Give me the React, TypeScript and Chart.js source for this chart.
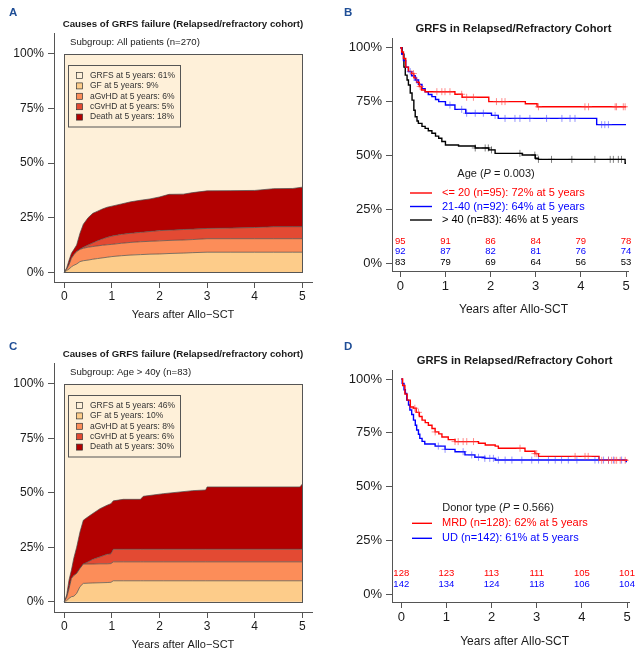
import React, { useEffect, useRef } from 'react';
import { Chart, registerables } from 'chart.js';
Chart.register(...registerables);

const FF = "'Liberation Sans', Arial, Helvetica, sans-serif";
const LETTER_COLOR = '#1f4e96';

// ---------- shared ----------
const yearTicks = [0, 1, 2, 3, 4, 5];
const pctTicks = [0, 25, 50, 75, 100];
const cifColors = ['#fef0d9', '#fdcc8a', '#fc8d59', '#e34a33', '#b30000'];

// ---------- Panel A : cumulative incidence, all patients ----------
const cifTimesA = [0, 0.05, 0.1, 0.15, 0.2, 0.26, 0.33, 0.4, 0.5, 0.6, 0.7, 0.8, 0.9, 1.0, 1.2, 1.4, 1.6, 1.8, 2.0, 2.2, 2.5, 2.7, 3.0, 3.5, 4.0, 4.4, 4.8, 5.0];
const gfA = [0, 0.8, 1.5, 2.5, 3.2, 3.8, 4.9, 5.3, 5.6, 6.0, 6.3, 6.6, 6.9, 7.2, 7.6, 7.9, 8.1, 8.3, 8.4, 8.6, 8.8, 9.0, 9.2, 9.2, 9.2, 9.2, 9.2, 9.2];
const agvhdA = [0, 0.7, 2.0, 3.9, 4.8, 5.7, 5.6, 5.7, 5.9, 5.8, 5.8, 5.8, 5.7, 5.6, 5.7, 5.8, 5.9, 5.9, 6.0, 6.0, 6.0, 6.0, 6.2, 6.2, 6.2, 6.2, 6.2, 6.2];
const cgvhdA = [0, 0, 0, 0, 0, 0, 0.1, 0.5, 1.0, 1.7, 2.4, 2.9, 3.4, 3.8, 4.1, 4.2, 4.3, 4.5, 4.7, 4.7, 4.8, 4.8, 4.7, 4.9, 5.1, 5.5, 5.5, 5.5];
const deathA = [0, 0.5, 2.0, 2.3, 2.4, 3.0, 7.3, 10.5, 12.5, 13.5, 13.5, 13.7, 13.8, 13.7, 13.9, 14.4, 14.7, 14.9, 15.4, 16.4, 16.2, 16.7, 17.2, 17.1, 17.0, 17.4, 17.5, 18.1];
const cifLegendA = ['GRFS at 5 years: 61%', 'GF at 5 years: 9%', 'aGvHD at 5 years: 6%', 'cGvHD at 5 years: 5%', 'Death at 5 years: 18%'];
const subgroupA = 'Subgroup: All patients (n=270)';

// ---------- Panel C : cumulative incidence, age > 40 ----------
const cifTimesC = [0, 0.05, 0.1, 0.15, 0.2, 0.26, 0.33, 0.4, 0.5, 0.6, 0.75, 0.9, 0.98, 1.03, 1.24, 1.6, 1.66, 2.08, 2.7, 2.97, 3.0, 4.95, 5.0];
const gfC = [0, 0.5, 1.5, 2.3, 2.5, 3.8, 6.9, 8.4, 8.5, 8.6, 8.7, 8.8, 8.9, 9.6, 9.6, 9.6, 9.6, 9.6, 9.6, 9.6, 9.6, 9.6, 9.6];
const agvhdC = [0, 1.5, 4.5, 8.4, 9.5, 9.2, 8.4, 8.9, 8.8, 8.7, 8.7, 8.6, 8.6, 8.7, 8.7, 8.7, 8.7, 8.7, 8.7, 8.7, 8.7, 8.7, 8.7];
const cgvhdC = [0, 0, 0, 0, 0, 0, 0, 0, 1.0, 2.2, 3.2, 4.4, 4.5, 5.8, 5.8, 5.8, 5.8, 5.8, 5.8, 5.8, 5.8, 5.8, 5.8];
const deathC = [0, 1, 4, 3.8, 8, 12, 16.7, 20.1, 20.7, 21, 22.1, 22.5, 23, 22.2, 22.9, 22.9, 24.3, 25.5, 26.9, 27.2, 28.6, 28.6, 29.9];
const cifLegendC = ['GRFS at 5 years: 46%', 'GF at 5 years: 10%', 'aGvHD at 5 years: 8%', 'cGvHD at 5 years: 6%', 'Death at 5 years: 30%'];
const subgroupC = 'Subgroup: Age > 40y (n=83)';

const cifTitle = 'Causes of GRFS failure (Relapsed/refractory cohort)';
const kmTitle = 'GRFS in Relapsed/Refractory Cohort';

// ---------- Panel B : KM by age ----------
const kmTimesB1 = [0, 0.03, 0.07, 0.12, 0.18, 0.25, 0.3, 0.36, 0.42, 0.47, 0.55, 1.21, 1.37, 1.96, 2.77, 3.03, 5.0];
const kmSurvB1 = [100, 98, 95, 91, 89, 88, 86, 84, 82, 80.4, 79.6, 78.4, 77, 75, 74, 72.6, 72.6];
const censorB1 = [0.29, 0.44, 0.81, 0.92, 0.99, 1.1, 1.36, 1.47, 1.62, 2.13, 2.25, 2.32, 3.06, 4.09, 4.17, 4.76, 4.79, 4.94, 4.98];
const kmTimesB2 = [0, 0.03, 0.07, 0.12, 0.18, 0.25, 0.33, 0.4, 0.48, 0.55, 0.62, 0.7, 0.78, 0.85, 1.0, 1.21, 1.45, 2.02, 2.17, 4.35, 5.0];
const kmSurvB2 = [100, 97, 94, 91, 88.9, 87, 85, 83, 81, 79.5, 78.3, 77.3, 76, 75, 73.4, 71.4, 69.6, 68.6, 67.2, 64.3, 64.3];
const censorB2 = [0.22, 0.36, 1.1, 1.36, 1.47, 1.66, 1.84, 2.1, 2.32, 2.54, 2.65, 2.87, 3.24, 3.58, 3.76, 3.87, 4.46, 4.53, 4.61];
const kmTimesB3 = [0, 0.04, 0.08, 0.11, 0.15, 0.18, 0.22, 0.26, 0.3, 0.33, 0.37, 0.4, 0.48, 0.55, 0.62, 0.7, 0.78, 0.85, 0.92, 1.0, 1.29, 1.66, 1.96, 2.1, 2.7, 2.99, 3.06, 4.98, 5.0];
const kmSurvB3 = [100, 97, 91, 87.3, 85, 82.7, 79, 75.7, 71, 68, 66, 64.9, 63.5, 62.6, 61.5, 60.3, 59, 58, 56.5, 54.9, 54.4, 53.5, 52.6, 51, 50.2, 48.7, 48.2, 46.4, 46.4];
const censorB3 = [1.66, 1.88, 1.95, 2.02, 2.65, 2.98, 3.06, 3.35, 3.8, 4.31, 4.65, 4.72, 4.83, 4.9];
const riskTimes = [0, 1, 2, 3, 4, 5];
const riskB1 = [95, 91, 86, 84, 79, 78];
const riskB2 = [92, 87, 82, 81, 76, 74];
const riskB3 = [83, 79, 69, 64, 56, 53];
const legendB = ['<= 20 (n=95): 72% at 5 years', '21-40 (n=92): 64% at 5 years', '> 40 (n=83): 46% at 5 years'];
const headerB = ['Age (', 'P', ' = 0.003)'];

// ---------- Panel D : KM by donor type ----------
const kmTimesD1 = [0, 0.03, 0.08, 0.13, 0.2, 0.27, 0.33, 0.4, 0.46, 0.53, 0.6, 0.68, 0.75, 0.83, 0.9, 1.04, 1.19, 1.71, 1.86, 2.08, 2.15, 2.74, 2.96, 3.04, 4.38, 5.0];
const kmSurvD1 = [100, 97, 93, 90.2, 87, 86.4, 84.5, 82.6, 80.9, 79.7, 78.5, 77, 75.4, 74.5, 73, 71.8, 70.9, 70.1, 69.3, 68.8, 67.8, 66.4, 65.3, 64, 62.2, 62];
const censorD1 = [0.3, 0.38, 0.75, 1.19, 1.26, 1.37, 1.45, 1.6, 2.63, 2.96, 3.0, 3.85, 4.07, 4.14, 4.44, 4.59, 4.66, 4.73, 4.77, 4.85, 4.96];
const kmTimesD2 = [0, 0.02, 0.06, 0.09, 0.12, 0.16, 0.19, 0.23, 0.27, 0.31, 0.34, 0.38, 0.41, 0.46, 0.52, 0.75, 0.97, 1.19, 1.41, 1.63, 1.85, 2.08, 4.98, 5.0];
const kmSurvD2 = [100, 98, 95, 93.3, 90.2, 87.9, 85.6, 83.5, 80.9, 78.5, 76.3, 74.3, 72.4, 71, 69.8, 68.8, 67.3, 66.2, 64.7, 63.6, 63.1, 62.3, 61.6, 61.6];
const censorD2 = [0.82, 0.97, 1.37, 1.56, 1.71, 1.85, 1.96, 2.04, 2.15, 2.3, 2.45, 2.67, 2.89, 3.04, 3.26, 3.41, 3.55, 3.7, 3.89, 4.29, 4.37, 4.48, 4.59, 4.7, 4.88];
const riskD1 = [128, 123, 113, 111, 105, 101];
const riskD2 = [142, 134, 124, 118, 106, 104];
const legendD = ['MRD (n=128): 62% at 5 years', 'UD (n=142): 61% at 5 years'];
const headerD = ['Donor type (', 'P', ' = 0.566)'];

// ---------- helpers ----------
function stepAt(times: number[], surv: number[], t: number) {
  let v = surv[0];
  for (let i = 0; i < times.length; i++) if (times[i] <= t) v = surv[i];
  return v;
}

function font(size: number, bold = false, italic = false) {
  return `${italic ? 'italic ' : ''}${bold ? 'bold ' : ''}${size}px ${FF}`;
}

function txt(ctx: CanvasRenderingContext2D, s: string, x: number, y: number, size: number, o: any = {}) {
  ctx.font = font(size, o.bold, o.italic);
  ctx.fillStyle = o.color || '#1a1a1a';
  ctx.textAlign = o.align || 'left';
  ctx.textBaseline = 'middle';
  ctx.fillText(s, x, y);
}

function mixedCentered(ctx: CanvasRenderingContext2D, parts: string[], cx: number, y: number, size: number) {
  const widths = parts.map((p, i) => { ctx.font = font(size, false, i === 1); return ctx.measureText(p).width; });
  let x = cx - widths.reduce((a, b) => a + b, 0) / 2;
  parts.forEach((p, i) => { txt(ctx, p, x, y, size, { italic: i === 1, color: '#1a1a1a' }); x += widths[i]; });
}

function xAxis(min: number, max: number, h: number, size: number, pad: number) {
  return {
    type: 'linear', min, max,
    afterBuildTicks: (s: any) => { s.ticks = yearTicks.map(v => ({ value: v })); },
    afterFit: (s: any) => { s.height = h; },
    ticks: { font: { family: FF, size }, color: '#1a1a1a', padding: pad, maxRotation: 0, autoSkip: false, callback: (v: any) => String(v) },
    grid: { display: true, drawOnChartArea: false, drawTicks: true, tickLength: 6, color: '#555', lineWidth: 1 },
    border: { display: true, color: '#555', width: 1 },
  };
}

function yAxis(min: number, max: number, w: number, size: number) {
  return {
    type: 'linear', min, max,
    afterBuildTicks: (s: any) => { s.ticks = pctTicks.map(v => ({ value: v })); },
    afterFit: (s: any) => { s.width = w; },
    ticks: { font: { family: FF, size }, color: '#1a1a1a', padding: 4, autoSkip: false, callback: (v: any) => v + '%' },
    grid: { display: true, drawOnChartArea: false, drawTicks: true, tickLength: 6, color: '#555', lineWidth: 1 },
    border: { display: true, color: '#555', width: 1 },
  };
}

const basePlugins = { legend: { display: false }, tooltip: { enabled: false }, title: { display: false } };

function cifConfig(times: number[], layers: number[][], legend: string[], subgroup: string, letter: string, xTitleY: number) {
  const cum: number[][] = [];
  let run = times.map(() => 0);
  layers.forEach(l => { run = run.map((v, i) => v + l[i]); cum.push(run); });
  const datasets = cum.map((c, k) => ({
    type: 'line',
    data: times.map((t, i) => ({ x: t, y: c[i] })),
    fill: k === 0 ? 'origin' : '-1',
    backgroundColor: cifColors[k + 1],
    borderColor: '#4a4a4a',
    borderWidth: 0.7,
    pointRadius: 0,
    tension: 0,
  }));
  const bg = {
    id: 'cifbg',
    beforeDatasetsDraw(chart: any) {
      const { ctx, scales: { x, y } } = chart;
      ctx.save();
      ctx.fillStyle = cifColors[0];
      const x0 = x.getPixelForValue(0), x1 = x.getPixelForValue(5);
      const y0 = y.getPixelForValue(0), y1 = y.getPixelForValue(100);
      ctx.fillRect(x0, y1, x1 - x0, y0 - y1);
      ctx.restore();
    },
    afterDatasetsDraw(chart: any) {
      const { ctx, scales: { x, y } } = chart;
      ctx.save();
      ctx.strokeStyle = '#555';
      ctx.lineWidth = 1;
      const x0 = x.getPixelForValue(0), x1 = x.getPixelForValue(5);
      const y0 = y.getPixelForValue(0), y1 = y.getPixelForValue(100);
      ctx.strokeRect(Math.round(x0) + 0.5, Math.round(y1) + 0.5, Math.round(x1 - x0), Math.round(y0 - y1));
      ctx.restore();
    },
  };
  const overlay = {
    id: 'cifoverlay',
    afterDraw(chart: any) {
      const ctx = chart.ctx;
      ctx.save();
      txt(ctx, letter, 9, xTitleY === 315 && letter === 'A' ? 13 : 16.5, 11.5, { bold: true, color: LETTER_COLOR });
      txt(ctx, cifTitle, 183, 24, 9.7, { bold: true, align: 'center' });
      txt(ctx, subgroup, 70, 42.5, 9.6, { color: '#222' });
      // legend box
      ctx.strokeStyle = '#555';
      ctx.lineWidth = 1;
      ctx.strokeRect(68.5, 65.5, 112, 61.5);
      legend.forEach((s, i) => {
        const ry = 75.5 + i * 10.4;
        ctx.fillStyle = cifColors[i];
        ctx.fillRect(76.5, ry - 3, 6, 6);
        ctx.strokeStyle = '#333';
        ctx.lineWidth = 0.7;
        ctx.strokeRect(76.5, ry - 3, 6, 6);
        txt(ctx, s, 90, ry, 8.5, { color: '#333' });
      });
      txt(ctx, 'Years after Allo\u2212SCT', 183, xTitleY, 11, { align: 'center' });
      ctx.restore();
    },
  };
  return {
    type: 'line',
    data: { datasets },
    options: {
      animation: false, responsive: false, maintainAspectRatio: false,
      layout: { padding: { left: 0, top: 33, right: 10, bottom: 0 }, autoPadding: false },
      plugins: { ...basePlugins, filler: { propagate: false } },
      scales: { x: xAxis(-0.216, 5.204, letter === 'A' ? 48 : 45, 12, 1), y: yAxis(letter === 'A' ? -4.44 : -4.73, 109.6, 54, 12) },
    },
    plugins: [bg, overlay],
  };
}

interface KmGroup { times: number[]; surv: number[]; censor: number[]; color: string; censorColor: string; risk: number[]; label: string; }

function kmConfig(groups: KmGroup[], header: string[], letter: string, o: any) {
  const datasets: any[] = [];
  groups.forEach((g, k) => {
    datasets.push({
      type: 'line',
      data: g.censor.map(t => ({ x: t, y: stepAt(g.times, g.surv, t) })),
      showLine: false,
      pointStyle: 'cross',
      pointRadius: 3.5,
      pointBorderColor: g.censorColor,
      pointBorderWidth: 1,
      pointBackgroundColor: g.censorColor,
      order: k,
    });
  });
  groups.forEach((g, k) => {
    datasets.push({
      type: 'line',
      data: g.times.map((t, i) => ({ x: t, y: g.surv[i] })),
      stepped: 'before',
      borderColor: g.color,
      borderWidth: 1.4,
      pointRadius: 0,
      fill: false,
      order: 10 + k,
    });
  });
  const overlay = {
    id: 'kmoverlay',
    afterDraw(chart: any) {
      const ctx = chart.ctx;
      const xs = chart.scales.x;
      ctx.save();
      txt(ctx, letter, 22, o.letterY, 11.5, { bold: true, color: LETTER_COLOR });
      txt(ctx, kmTitle, o.titleX, o.titleY, 11.2, { bold: true, align: 'center' });
      mixedCentered(ctx, header, o.headerX, o.headerY, 11);
      groups.forEach((g, k) => {
        const ly = o.legendY[k];
        ctx.strokeStyle = g.color;
        ctx.lineWidth = 1.4;
        ctx.beginPath();
        ctx.moveTo(o.lineX0, ly);
        ctx.lineTo(o.lineX1, ly);
        ctx.stroke();
        txt(ctx, g.label, 120, ly, 11, { color: g.color });
        g.risk.forEach((n, i) => {
          txt(ctx, String(n), xs.getPixelForValue(riskTimes[i]), o.riskY[k], 9.5, { color: g.color, align: 'center' });
        });
      });
      txt(ctx, 'Years after Allo-SCT', o.titleX, o.xTitleY, 12, { align: 'center' });
      ctx.restore();
    },
  };
  return {
    type: 'line',
    data: { datasets },
    options: {
      animation: false, responsive: false, maintainAspectRatio: false,
      layout: { padding: { left: 0, top: o.top, right: o.right, bottom: 0 }, autoPadding: false },
      plugins: basePlugins,
      scales: { x: xAxis(o.xmin, o.xmax, o.xh, 13, 2), y: yAxis(o.ymin, o.ymax, 70, 13) },
    },
    plugins: [overlay],
  };
}

function ChartPanel({ left, top, width, height, build }: any) {
  const ref = useRef<HTMLCanvasElement>(null);
  useEffect(() => {
    const chart = new Chart(ref.current as HTMLCanvasElement, build());
    return () => chart.destroy();
  }, []);
  return (
    <div style={{ position: 'absolute', left, top, width, height }}>
      <canvas ref={ref} width={width} height={height} style={{ width, height, display: 'block' }} />
    </div>
  );
}

export default function App() {
  const buildA = () => cifConfig(cifTimesA, [gfA, agvhdA, cgvhdA, deathA], cifLegendA, subgroupA, 'A', 315);
  const buildC = () => cifConfig(cifTimesC, [gfC, agvhdC, cgvhdC, deathC], cifLegendC, subgroupC, 'C', 315);
  const buildB = () => kmConfig([
    { times: kmTimesB1, surv: kmSurvB1, censor: censorB1, color: '#ff0000', censorColor: 'rgba(255,60,60,0.6)', risk: riskB1, label: legendB[0] },
    { times: kmTimesB2, surv: kmSurvB2, censor: censorB2, color: '#0000ff', censorColor: 'rgba(60,60,255,0.55)', risk: riskB2, label: legendB[1] },
    { times: kmTimesB3, surv: kmSurvB3, censor: censorB3, color: '#000000', censorColor: 'rgba(0,0,0,0.5)', risk: riskB3, label: legendB[2] },
  ], headerB, 'B', {
    letterY: 12.5, titleX: 191.5, titleY: 29, headerX: 174, headerY: 174,
    legendY: [193, 206.5, 220], lineX0: 88, lineX1: 110, riskY: [241, 251, 262.5],
    xTitleY: 310, top: 38, right: 16, xmin: -0.184, xmax: 5.044, xh: 59, ymin: -3.57, ymax: 104.5,
  });
  const buildD = () => kmConfig([
    { times: kmTimesD1, surv: kmSurvD1, censor: censorD1, color: '#ff0000', censorColor: 'rgba(255,60,60,0.6)', risk: riskD1, label: legendD[0] },
    { times: kmTimesD2, surv: kmSurvD2, censor: censorD2, color: '#0000ff', censorColor: 'rgba(60,60,255,0.55)', risk: riskD2, label: legendD[1] },
  ], headerD, 'D', {
    letterY: 17, titleX: 192.6, titleY: 30.7, headerX: 176, headerY: 177.7,
    legendY: [193.3, 208.3], lineX0: 90, lineX1: 110, riskY: [243.3, 254],
    xTitleY: 311.5, top: 40, right: 15, xmin: -0.206, xmax: 5.044, xh: 55, ymin: -3.72, ymax: 104.2,
  });
  return (
    <div style={{ position: 'absolute', left: 0, top: 0, width: 644, height: 657, background: '#fff' }}>
      <ChartPanel left={0} top={0} width={322} height={330} build={buildA} />
      <ChartPanel left={322} top={0} width={322} height={330} build={buildB} />
      <ChartPanel left={0} top={330} width={322} height={327} build={buildC} />
      <ChartPanel left={322} top={330} width={322} height={327} build={buildD} />
    </div>
  );
}
